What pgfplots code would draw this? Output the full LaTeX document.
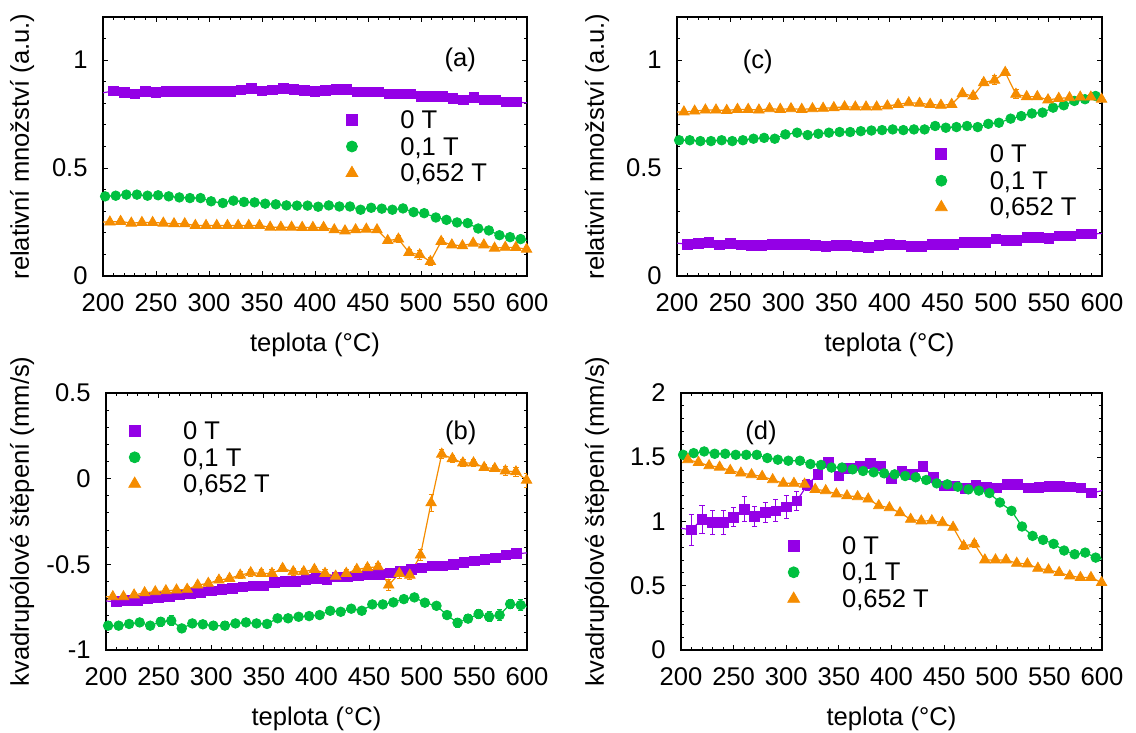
\documentclass[border=0pt]{standalone}
\usepackage{fontspec}
\setmainfont{Liberation Sans}
\usepackage{pgfplots}
\usepackage{pgfplotstable}
\pgfplotsset{compat=1.18}
\definecolor{cA}{RGB}{148,0,230}
\definecolor{cB}{RGB}{0,192,64}
\definecolor{cC}{RGB}{245,140,0}

% 0 T
\pgfplotstableread{
x a ea c ec b eb d ed
195 0.845 0 0.155 0 -0.712 0 0.953 0
210 0.857 0.004 0.147 0.004 -0.718 0.008 0.935 0.12
220 0.850 0.004 0.152 0.004 -0.709 0.008 1.018 0.11
230 0.843 0.004 0.157 0.004 -0.709 0.008 0.992 0.09
240 0.854 0.004 0.144 0.004 -0.699 0.008 0.992 0.09
250 0.850 0.004 0.152 0.004 -0.693 0.008 1.034 0.075
260 0.854 0.004 0.144 0.004 -0.689 0.008 1.096 0.095
270 0.854 0.004 0.141 0.004 -0.679 0.008 1.039 0.08
280 0.854 0.004 0.141 0.004 -0.670 0.008 1.070 0.075
290 0.854 0.004 0.147 0.004 -0.664 0.008 1.083 0.085
300 0.854 0.004 0.147 0.004 -0.654 0.008 1.115 0.09
310 0.854 0.004 0.147 0.004 -0.646 0.008 1.160 0.075
320 0.854 0.004 0.147 0.004 -0.641 0.008 1.284 0.045
330 0.862 0.004 0.141 0.004 -0.631 0.008 1.367 0.03
340 0.868 0.004 0.136 0.004 -0.625 0.008 1.458 0.025
350 0.857 0.004 0.141 0.004 -0.625 0.008 1.354 0.03
360 0.862 0.004 0.141 0.004 -0.606 0.008 1.414 0.02
370 0.868 0.004 0.136 0.004 -0.598 0.008 1.432 0.02
380 0.865 0.004 0.132 0.004 -0.598 0.008 1.453 0.02
390 0.859 0.004 0.141 0.004 -0.588 0.008 1.434 0.02
400 0.854 0.004 0.147 0.004 -0.582 0.008 1.336 0.02
410 0.859 0.004 0.144 0.004 -0.592 0.008 1.393 0.02
420 0.865 0.004 0.136 0.004 -0.573 0.008 1.367 0.02
430 0.865 0.004 0.136 0.004 -0.573 0.008 1.427 0.02
440 0.853 0.004 0.147 0.004 -0.567 0.008 1.344 0.02
450 0.853 0.004 0.147 0.004 -0.559 0.008 1.276 0.02
460 0.853 0.004 0.147 0.004 -0.559 0.008 1.276 0.02
470 0.843 0.004 0.155 0.004 -0.549 0.008 1.258 0.02
480 0.843 0.004 0.155 0.004 -0.538 0.008 1.284 0.02
490 0.843 0.004 0.155 0.004 -0.528 0.008 1.268 0.02
500 0.831 0.004 0.171 0.004 -0.520 0.008 1.260 0.02
510 0.831 0.004 0.164 0.004 -0.510 0.008 1.291 0.02
520 0.831 0.004 0.164 0.004 -0.510 0.008 1.291 0.025
530 0.822 0.004 0.180 0.004 -0.501 0.008 1.260 0.025
540 0.815 0.004 0.180 0.004 -0.489 0.008 1.265 0.025
550 0.828 0.004 0.175 0.004 -0.479 0.008 1.273 0.025
560 0.815 0.004 0.186 0.004 -0.472 0.008 1.273 0.025
570 0.815 0.004 0.186 0.004 -0.462 0.008 1.268 0.025
580 0.806 0.004 0.195 0.004 -0.446 0.008 1.260 0.025
590 0.806 0.004 0.195 0.004 -0.437 0.008 1.221 0.03
605 0.800 0 0.198 0 -0.432 0 1.250 0
}\tP

% 0,1 T
\pgfplotstableread{
x a ea c ec b eb d ed
202 0.369 0.004 0.629 0.004 -0.858 0.025 1.519 0.01
212 0.372 0.004 0.629 0.004 -0.858 0.02 1.532 0.01
222 0.377 0.004 0.625 0.004 -0.848 0.02 1.545 0.01
232 0.377 0.004 0.625 0.004 -0.839 0.025 1.527 0.01
242 0.372 0.004 0.629 0.004 -0.858 0.02 1.527 0.01
252 0.374 0.004 0.625 0.004 -0.835 0.025 1.519 0.01
262 0.369 0.004 0.629 0.004 -0.829 0.03 1.519 0.01
272 0.364 0.004 0.636 0.004 -0.874 0.025 1.519 0.01
282 0.361 0.004 0.640 0.004 -0.845 0.025 1.494 0.01
292 0.361 0.004 0.636 0.004 -0.850 0.02 1.481 0.01
302 0.346 0.004 0.656 0.004 -0.858 0.025 1.473 0.01
313 0.338 0.004 0.664 0.004 -0.858 0.025 1.473 0.01
323 0.349 0.004 0.653 0.004 -0.845 0.025 1.447 0.01
333 0.343 0.004 0.659 0.004 -0.839 0.02 1.440 0.01
343 0.341 0.004 0.664 0.004 -0.845 0.02 1.420 0.01
353 0.335 0.004 0.667 0.004 -0.848 0.02 1.420 0.01
363 0.332 0.004 0.667 0.004 -0.815 0.02 1.406 0.01
373 0.327 0.004 0.671 0.004 -0.815 0.02 1.393 0.01
383 0.326 0.004 0.674 0.004 -0.806 0.02 1.383 0.01
393 0.326 0.004 0.676 0.004 -0.802 0.02 1.375 0.01
403 0.321 0.004 0.679 0.004 -0.796 0.02 1.367 0.01
413 0.327 0.004 0.676 0.004 -0.771 0.02 1.354 0.01
423 0.322 0.004 0.679 0.004 -0.777 0.02 1.344 0.01
433 0.322 0.004 0.679 0.004 -0.759 0.02 1.323 0.01
443 0.307 0.004 0.695 0.004 -0.771 0.015 1.297 0.01
453 0.316 0.004 0.687 0.004 -0.734 0.015 1.289 0.01
463 0.312 0.004 0.690 0.004 -0.734 0.015 1.271 0.01
473 0.307 0.004 0.695 0.004 -0.722 0.015 1.250 0.01
483 0.313 0.004 0.690 0.004 -0.703 0.015 1.240 0.01
493 0.296 0.004 0.705 0.004 -0.693 0.015 1.221 0.01
503 0.291 0.004 0.710 0.004 -0.724 0.02 1.148 0.01
514 0.271 0.004 0.729 0.004 -0.742 0.02 1.083 0.01
524 0.260 0.004 0.741 0.004 -0.796 0.02 0.961 0.01
534 0.248 0.004 0.753 0.004 -0.841 0.025 0.888 0.01
544 0.245 0.004 0.757 0.004 -0.817 0.025 0.857 0.01
554 0.220 0.004 0.780 0.004 -0.790 0.025 0.826 0.01
564 0.211 0.004 0.791 0.004 -0.806 0.03 0.774 0.01
574 0.189 0.004 0.811 0.004 -0.796 0.03 0.745 0.01
584 0.180 0.004 0.819 0.004 -0.732 0.025 0.758 0.01
594 0.171 0.004 0.834 0.004 -0.738 0.03 0.719 0.01
604 0.160 0 0.820 0 -0.757 0 0.700 0
}\tG

% 0,652 T
\pgfplotstableread{
x a ea c ec b eb d ed
196 0.250 0 0.760 0 -0.690 0 1.490 0
206.5 0.250 0.004 0.760 0.004 -0.689 0.015 1.481 0.01
216.6 0.253 0.004 0.764 0.004 -0.689 0.015 1.460 0.01
226.7 0.245 0.004 0.769 0.004 -0.679 0.015 1.434 0.01
236.7 0.248 0.004 0.769 0.004 -0.666 0.015 1.423 0.01
246.8 0.248 0.004 0.767 0.004 -0.660 0.015 1.397 0.01
256.9 0.245 0.004 0.772 0.004 -0.654 0.015 1.377 0.01
267 0.242 0.004 0.772 0.004 -0.650 0.015 1.364 0.01
277.1 0.242 0.004 0.769 0.004 -0.646 0.015 1.351 0.01
287.1 0.234 0.004 0.775 0.004 -0.621 0.015 1.325 0.01
297.2 0.234 0.004 0.772 0.004 -0.611 0.015 1.297 0.01
307.3 0.234 0.004 0.775 0.004 -0.592 0.015 1.297 0.01
317.4 0.234 0.004 0.772 0.004 -0.582 0.015 1.290 0.01
327.5 0.234 0.004 0.775 0.004 -0.563 0.02 1.250 0.01
337.5 0.234 0.004 0.777 0.004 -0.549 0.02 1.240 0.01
347.6 0.234 0.004 0.780 0.004 -0.553 0.02 1.214 0.01
357.7 0.226 0.004 0.784 0.004 -0.553 0.02 1.200 0.01
367.8 0.226 0.004 0.783 0.004 -0.524 0.02 1.193 0.01
377.9 0.226 0.004 0.783 0.004 -0.543 0.02 1.175 0.01
387.9 0.225 0.004 0.783 0.004 -0.543 0.02 1.123 0.01
398 0.225 0.004 0.788 0.004 -0.530 0.02 1.107 0.01
408.1 0.225 0.004 0.795 0.005 -0.553 0.02 1.068 0.01
418.2 0.214 0.005 0.803 0.005 -0.569 0.02 1.017 0.01
428.3 0.209 0.005 0.800 0.005 -0.553 0.02 1.004 0.01
438.3 0.214 0.005 0.795 0.005 -0.530 0.02 1.006 0.01
448.4 0.217 0.005 0.791 0.005 -0.520 0.02 0.991 0.015
458.5 0.214 0.005 0.795 0.005 -0.514 0.02 0.955 0.015
468.6 0.164 0.012 0.845 0.01 -0.621 0.03 0.810 0.03
478.7 0.171 0.015 0.834 0.015 -0.553 0.03 0.825 0.03
488.7 0.109 0.015 0.896 0.015 -0.563 0.025 0.701 0.015
498.8 0.098 0.02 0.907 0.02 -0.446 0.03 0.701 0.01
508.9 0.067 0.02 0.943 0.015 -0.141 0.05 0.701 0.01
519 0.160 0.015 0.842 0.02 0.143 0.025 0.675 0.01
529.1 0.144 0.008 0.831 0.01 0.117 0.02 0.670 0.01
539.1 0.140 0.008 0.831 0.01 0.092 0.02 0.636 0.01
549.2 0.152 0.008 0.816 0.01 0.092 0.02 0.623 0.01
559.3 0.144 0.008 0.823 0.01 0.065 0.02 0.603 0.01
569.4 0.129 0.008 0.826 0.01 0.059 0.02 0.577 0.01
579.5 0.133 0.008 0.829 0.01 0.045 0.025 0.564 0.01
589.5 0.132 0.008 0.829 0.01 0.040 0.025 0.564 0.01
599.6 0.124 0.008 0.819 0.01 -0.009 0.04 0.525 0.01
}\tO

\pgfplotsset{
  panel/.style={
    scale only axis, clip=true,
    xmin=200, xmax=600,
    xtick={200,250,...,600},
    xticklabels={200,250,300,350,400,450,500,550,600},
    minor xtick={200,210,...,600},
    tick align=inside,
    major tick length=2.6pt,
    minor tick length=1.4pt,
    tick style={black, line width=0.5pt},
    axis line style={black, line width=0.6pt},
    xticklabel style={anchor=center, yshift=-13.5pt},
    yticklabel style={anchor=east, inner sep=0pt, xshift=-7.5pt},
    xlabel={teplota (°C)},
    legend cell align=left,
    legend style={draw=none, fill=none, inner sep=0pt, outer sep=0pt,
      row sep=0pt, column sep=0pt, anchor=north west,
      nodes={inner sep=0pt, text height=11pt, text depth=2.3pt}},
  },
  mylegend/.style={legend image code/.code={%
      \draw[##1] plot coordinates {(10pt,0pt)};
      \path (0pt,0pt) (34pt,0pt);}},
  ln/.style={forget plot, mark=none, line width=0.6pt},
  mk/.style={forget plot, only marks, restrict x to domain=199:601,
    error bars/y dir=both, error bars/y explicit,
    error bars/error bar style={line width=0.5pt},
    error bars/error mark options={rotate=90, mark size=1.3pt, line width=0.5pt}},
  sq/.style={cA, mark=square*, mark size=2.4pt},
  ci/.style={cB, mark=*, mark size=2.4pt},
  tr/.style={cC, mark=triangle*, mark size=3.0pt},
}

\begin{document}
\begin{tikzpicture}[font=\fontsize{12.8}{15}\selectfont]
\useasboundingbox (0,0) rectangle (568pt,366.5pt);

% (a)
\begin{axis}[panel, at={(51.5pt,228.5pt)}, anchor=south west,
  width=212pt, height=129.5pt,
  ymin=0, ymax=1.2, ytick={0,0.5,1}, yticklabels={0,0.5,1},
  minor ytick={0,0.1,...,1.2},
  ylabel={relativní množství (a.u.)},
  ylabel style={at={(axis description cs:-0.191,0.5)}, anchor=center},
  xlabel style={at={(axis description cs:0.5,-0.266)}, anchor=center},
  legend style={at={(axis description cs:0.539,0.654)}}]
\addlegendimage{mylegend, cA, mark=square*, mark size=2.75pt}
\addlegendentry{0 T}
\addlegendimage{mylegend, cB, mark=*, mark size=2.75pt}
\addlegendentry{0,1 T}
\addlegendimage{mylegend, cC, mark=triangle*, mark size=3.4pt}
\addlegendentry{0,652 T}
\addplot[ln, cA] table[x=x, y=a]{\tP};
\addplot[mk, sq] table[x=x, y=a, y error=ea]{\tP};
\addplot[ln, cB] table[x=x, y=a]{\tG};
\addplot[mk, ci] table[x=x, y=a, y error=ea]{\tG};
\addplot[ln, cC] table[x=x, y=a]{\tO};
\addplot[mk, tr] table[x=x, y=a, y error=ea]{\tO};
\node[anchor=center] at (axis cs:537,1.0) {(a)};
\end{axis}

% (c)
\begin{axis}[panel, at={(338.5pt,228.5pt)}, anchor=south west,
  width=212.5pt, height=129.5pt,
  ymin=0, ymax=1.2, ytick={0,0.5,1}, yticklabels={0,0.5,1},
  minor ytick={0,0.1,...,1.2},
  ylabel={relativní množství (a.u.)},
  ylabel style={at={(axis description cs:-0.188,0.5)}, anchor=center},
  xlabel style={at={(axis description cs:0.5,-0.266)}, anchor=center},
  legend style={at={(axis description cs:0.574,0.522)}}]
\addlegendimage{mylegend, cA, mark=square*, mark size=2.75pt}
\addlegendentry{0 T}
\addlegendimage{mylegend, cB, mark=*, mark size=2.75pt}
\addlegendentry{0,1 T}
\addlegendimage{mylegend, cC, mark=triangle*, mark size=3.4pt}
\addlegendentry{0,652 T}
\addplot[ln, cA] table[x=x, y=c]{\tP};
\addplot[mk, sq] table[x=x, y=c, y error=ec]{\tP};
\addplot[ln, cB] table[x=x, y=c]{\tG};
\addplot[mk, ci] table[x=x, y=c, y error=ec]{\tG};
\addplot[ln, cC] table[x=x, y=c]{\tO};
\addplot[mk, tr] table[x=x, y=c, y error=ec]{\tO};
\node[anchor=center] at (axis cs:276,0.993) {(c)};
\end{axis}

% (b)
\begin{axis}[panel, at={(53pt,41.5pt)}, anchor=south west,
  width=210.5pt, height=128.5pt,
  ymin=-1, ymax=0.5, ytick={-1,-0.5,0,0.5}, yticklabels={-1,-0.5,0,0.5},
  minor ytick={-1,-0.9,...,0.5},
  ylabel={kvadrupólové štěpení (mm/s)},
  ylabel style={at={(axis description cs:-0.1995,0.5)}, anchor=center},
  xlabel style={at={(axis description cs:0.5,-0.268)}, anchor=center},
  legend style={at={(axis description cs:0.0197,0.905)}}]
\addlegendimage{mylegend, cA, mark=square*, mark size=2.75pt}
\addlegendentry{0 T}
\addlegendimage{mylegend, cB, mark=*, mark size=2.75pt}
\addlegendentry{0,1 T}
\addlegendimage{mylegend, cC, mark=triangle*, mark size=3.4pt}
\addlegendentry{0,652 T}
\addplot[ln, cA] table[x=x, y=b]{\tP};
\addplot[mk, sq] table[x=x, y=b, y error=eb]{\tP};
\addplot[ln, cB] table[x=x, y=b]{\tG};
\addplot[mk, ci] table[x=x, y=b, y error=eb]{\tG};
\addplot[ln, cC] table[x=x, y=b]{\tO};
\addplot[mk, tr] table[x=x, y=b, y error=eb]{\tO};
\node[anchor=center] at (axis cs:537,0.265) {(b)};
\end{axis}

% (d)
\begin{axis}[panel, at={(340.5pt,41.5pt)}, anchor=south west,
  width=210.5pt, height=128.5pt,
  ymin=0, ymax=2, ytick={0,0.5,1,1.5,2}, yticklabels={0,0.5,1,1.5,2},
  minor ytick={0,0.1,...,2},
  ylabel={kvadrupólové štěpení (mm/s)},
  ylabel style={at={(axis description cs:-0.1995,0.5)}, anchor=center},
  xlabel style={at={(axis description cs:0.5,-0.268)}, anchor=center},
  legend style={at={(axis description cs:0.2192,0.4576)}}]
\addlegendimage{mylegend, cA, mark=square*, mark size=2.75pt}
\addlegendentry{0 T}
\addlegendimage{mylegend, cB, mark=*, mark size=2.75pt}
\addlegendentry{0,1 T}
\addlegendimage{mylegend, cC, mark=triangle*, mark size=3.4pt}
\addlegendentry{0,652 T}
\addplot[ln, cA] table[x=x, y=d]{\tP};
\addplot[mk, sq] table[x=x, y=d, y error=ed]{\tP};
\addplot[ln, cB] table[x=x, y=d]{\tG};
\addplot[mk, ci] table[x=x, y=d, y error=ed]{\tG};
\addplot[ln, cC] table[x=x, y=d]{\tO};
\addplot[mk, tr] table[x=x, y=d, y error=ed]{\tO};
\node[anchor=center] at (axis cs:276,1.686) {(d)};
\end{axis}
\end{tikzpicture}
\end{document}
